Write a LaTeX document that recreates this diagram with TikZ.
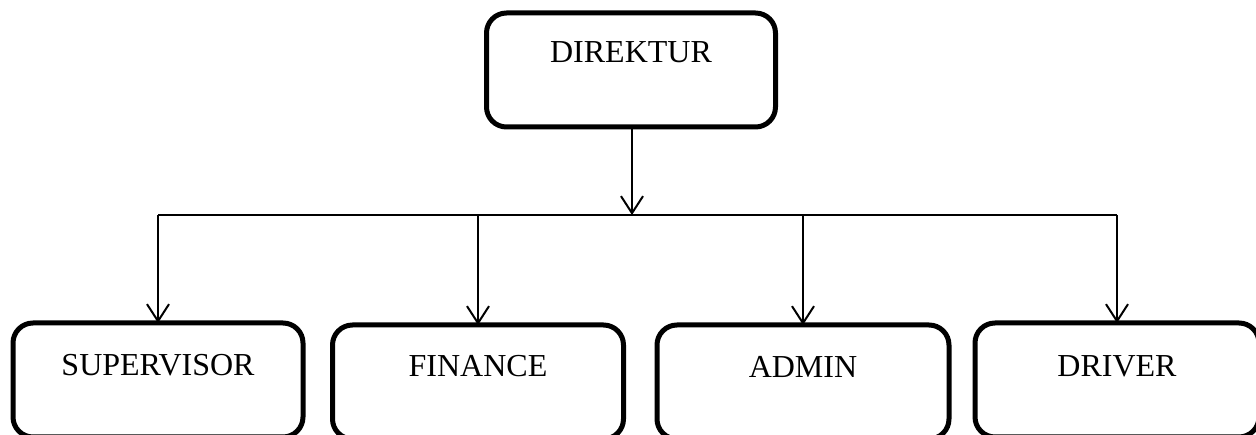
\documentclass[tikz,border=0pt]{standalone}
\usepackage{fontspec}
\setmainfont{Liberation Serif}
\usetikzlibrary{arrows.meta}
\tikzset{
  orgbox/.style={draw, line width=5pt, rounded corners=20pt, minimum height=114pt, inner sep=0pt, outer sep=0pt},
  lbl/.style={anchor=center, inner sep=0pt, font=\fontsize{32}{38}\selectfont},
  conn/.style={line width=2pt, -{Straight Barb[length=17pt,width=22pt,line width=2pt]}},
  bus/.style={line width=2pt}
}
\begin{document}
\begin{tikzpicture}[x=1pt,y=-1pt]
\useasboundingbox (0,0) rectangle (1256,435);
\node[orgbox, minimum width=289pt] (dir) at (631,70) {};
\node[orgbox, minimum width=290pt] (sup) at (158,380) {};
\node[orgbox, minimum width=291pt] (fin) at (478,382) {};
\node[orgbox, minimum width=292pt] (adm) at (803,382) {};
\node[orgbox, minimum width=284pt] (drv) at (1117,380) {};
\node[lbl] (tdir) at ([yshift=-39pt]dir.north) {DIREKTUR};
\node[lbl] (tsup) at ([yshift=-42pt]sup.north) {SUPERVISOR};
\node[lbl] (tfin) at ([yshift=-41pt]fin.north) {FINANCE};
\node[lbl] (tadm) at ([yshift=-42pt]adm.north) {ADMIN};
\node[lbl] (tdrv) at ([yshift=-43pt]drv.north) {DRIVER};
\coordinate (b) at (632,215);
\draw[conn] (dir.south -| b) -- (b);
\draw[bus] (sup.north |- b) -- (drv.north |- b);
\draw[conn] (sup.north |- b) -- (sup.north);
\draw[conn] (fin.north |- b) -- (fin.north);
\draw[conn] (adm.north |- b) -- (adm.north);
\draw[conn] (drv.north |- b) -- (drv.north);
\end{tikzpicture}
\end{document}
